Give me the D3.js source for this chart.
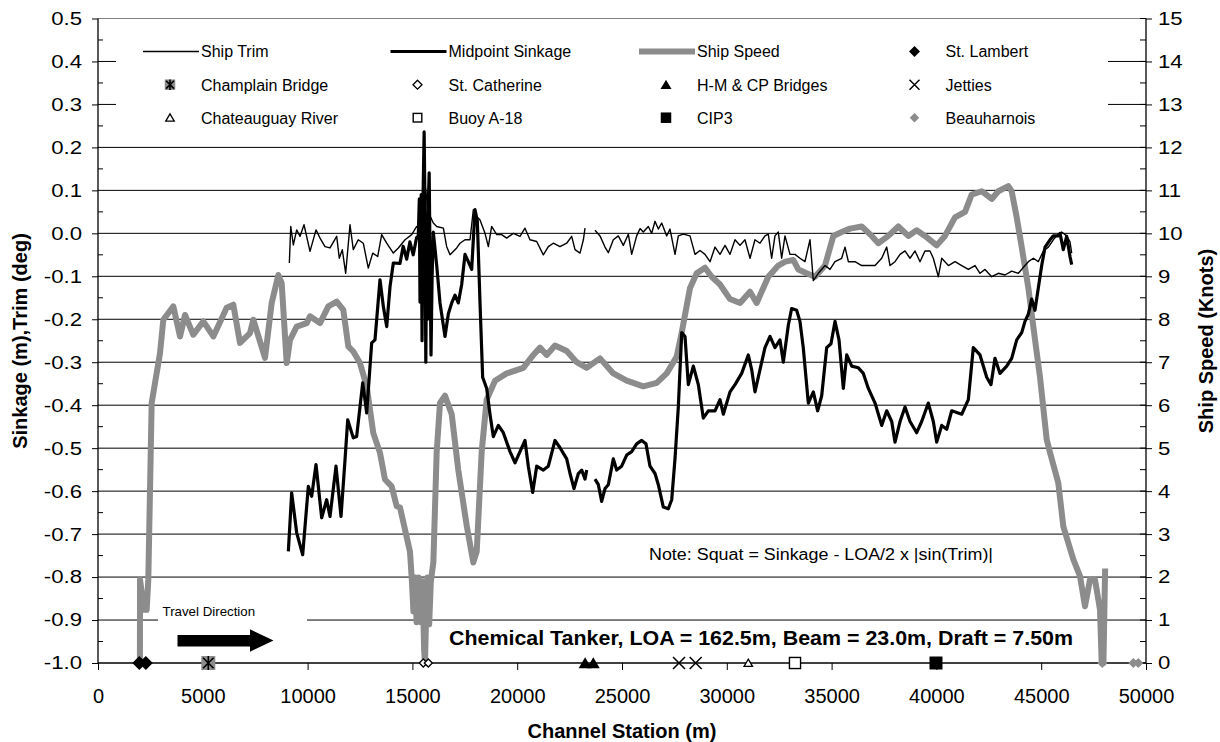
<!DOCTYPE html>
<html>
<head>
<meta charset="utf-8">
<script src="https://cdn.jsdelivr.net/npm/d3@7"></script>
<style>
  body { margin: 0; background: #fff; }
  svg { display: block; font-family: "Liberation Sans", Arial, sans-serif; }
</style>
</head>
<body>
<svg id="chart" width="1220" height="742"></svg>
<script>
// ---- Data: channel station (m) vs. measured quantity ----
const speedKnots = [
  [2000,0],[2004,1.94],[2200,1.24],[2322,1.24],[2400,1.94],[2560,6.05],[2958,7.21],[3117,7.99],
  [3594,8.3],[3912,7.6],[4151,8.1],[4548,7.64],[5025,7.95],[5502,7.6],[6139,8.27],[6457,8.34],
  [6775,7.45],[7252,7.68],[7411,7.99],[7968,7.1],[8287,8.38],[8605,9.03],[8764,8.84],[9003,6.98],
  [9160,7.52],[9480,7.83],[9957,7.91],[10115,8.07],[10592,7.91],[10988,8.3],[11388,8.41],[11703,8.22],
  [11942,7.37],[12180,7.25],[12500,6.98],[12820,6.44],[13135,5.35],[13454,4.89],[13693,4.27],[14012,4.11],
  [14251,3.65],[14408,3.62],[14885,2.59],[14966,1.99],[15050,1.2],[15130,1.99],[15200,0.95],[15290,1.99],
  [15400,0.95],[15480,1.9],[15560,0.3],[15600,0],[15650,1.0],[15720,1.99],[15800,0.9],[15880,1.9],
  [16000,2.34],[16159,4.92],[16317,6.05],[16556,6.22],[16875,5.79],[17190,4.49],[17590,3.2],[17906,2.34],
  [18068,2.59],[18306,4.92],[18545,6.13],[18941,6.57],[19499,6.74],[20291,6.87],[20769,7.17],[21088,7.34],
  [21406,7.17],[21803,7.39],[22361,7.26],[22839,7.0],[23316,6.87],[23950,7.09],[24586,6.74],[25224,6.57],
  [26016,6.44],[26656,6.52],[27133,6.74],[27610,7.13],[27849,7.69],[28245,8.73],[28564,9.07],[28960,9.2],
  [29280,8.99],[29676,8.81],[30153,8.47],[30630,8.38],[31107,8.64],[31425,8.38],[31980,8.99],[32457,9.25],
  [32790,9.34],[33172,9.38],[33410,9.16],[33812,9.07],[34209,8.99],[34686,9.25],[35083,9.94],[35480,10.03],
  [35879,10.11],[36436,10.16],[36913,9.94],[37229,9.77],[37706,9.94],[38183,10.16],[38660,9.94],[39059,10.07],
  [39455,9.94],[40015,9.72],[40410,9.94],[40888,10.37],[41365,10.5],[41683,10.9],[42160,10.98],[42638,10.8],
  [42953,10.98],[43431,11.1],[43591,10.98],[43832,10.37],[44070,9.68],[44387,8.73],[44706,7.52],[44944,6.65],
  [45263,5.2],[45420,4.9],[45816,4.19],[46055,3.18],[46532,2.41],[46851,2.02],[47090,1.32],[47328,1.94],
  [47567,1.94],[47806,1.24],[47887,0],[47970,0],[48050,2.2]
];

// null marks a break in the record
const midpointSinkage = [
  [9082,-0.740],[9240,-0.604],[9480,-0.697],[9766,-0.748],[10035,-0.589],[10195,-0.612],[10401,-0.538],
  [10672,-0.662],[10910,-0.62],[11069,-0.659],[11355,-0.542],[11594,-0.659],[11785,-0.527],[11913,-0.434],
  [12180,-0.476],[12340,-0.473],[12629,-0.348],[12820,-0.418],[13058,-0.255],[13215,-0.248],[13454,-0.108],
  [13613,-0.170],[13774,-0.217],[13932,-0.124],[14090,-0.069],[14408,-0.07],[14560,-0.03],[14727,-0.06],
  [14880,-0.02],[15040,-0.05],[15200,-0.01],[15282,-0.006],[15330,0.08],[15363,-0.16],[15420,0.09],
  [15460,-0.25],[15500,0.06],[15560,0.236],[15601,0.05],[15640,-0.30],[15680,0.0],[15720,-0.2],[15760,0.07],
  [15800,0.141],[15840,-0.05],[15888,-0.283],[15940,-0.1],[15998,0.003],[16160,-0.075],[16317,-0.162],
  [16556,-0.240],[16715,-0.187],[16875,-0.162],[17033,-0.144],[17190,-0.162],[17351,-0.119],[17510,-0.049],
  [17668,-0.066],[17828,-0.084],[17987,0.055],[18097,0.029],[18226,-0.162],[18352,-0.335],[18545,-0.361],
  [18702,-0.421],[18860,-0.473],[19100,-0.447],[19338,-0.464],[19657,-0.508],[19895,-0.534],[20134,-0.508],
  [20372,-0.482],[20530,-0.542],[20739,-0.603],[20930,-0.542],[21246,-0.551],[21485,-0.542],[21803,-0.482],
  [22042,-0.499],[22361,-0.525],[22520,-0.559],[22710,-0.594],[22917,-0.559],[23077,-0.551],[23236,-0.572],
  [23316,-0.551],[23500,null],
  [23712,-0.572],[23872,-0.585],[24030,-0.624],[24189,-0.594],[24347,-0.585],[24586,-0.525],[24745,-0.551],
  [24983,-0.542],[25224,-0.516],[25462,-0.508],[25700,-0.490],[25939,-0.482],[26144,-0.490],[26336,-0.542],
  [26575,-0.559],[26733,-0.585],[26971,-0.637],[27210,-0.641],[27372,-0.620],[27530,-0.524],[27687,-0.404],
  [27849,-0.231],[28006,-0.240],[28164,-0.352],[28403,-0.309],[28641,-0.352],[28879,-0.430],[29118,-0.413],
  [29438,-0.413],[29676,-0.387],[29834,-0.421],[30153,-0.369],[30391,-0.352],[30710,-0.326],[31025,-0.283],
  [31186,-0.317],[31345,-0.369],[31584,-0.317],[31822,-0.266],[32061,-0.240],[32299,-0.266],[32538,-0.248],
  [32696,-0.30],[32935,-0.214],[33094,-0.175],[33333,-0.179],[33490,-0.205],[33648,-0.266],[33889,-0.395],
  [34128,-0.369],[34334,-0.413],[34527,-0.378],[34766,-0.266],[34971,-0.257],[35162,-0.205],[35353,-0.248],
  [35560,-0.361],[35722,-0.283],[35960,-0.309],[36276,-0.313],[36515,-0.326],[36753,-0.361],[37073,-0.395],
  [37390,-0.447],[37629,-0.413],[37868,-0.438],[38026,-0.486],[38265,-0.438],[38503,-0.404],[38742,-0.438],
  [39059,-0.464],[39298,-0.438],[39615,-0.395],[39853,-0.438],[40015,-0.486],[40254,-0.447],[40493,-0.456],
  [40731,-0.413],[40970,-0.417],[41208,-0.421],[41523,-0.387],[41760,-0.266],[42080,-0.283],[42400,-0.335],
  [42605,-0.352],[42796,-0.291],[43034,-0.326],[43354,-0.309],[43592,-0.291],[43832,-0.248],[44070,-0.231],
  [44227,-0.205],[44387,-0.188],[44546,-0.153],[44703,-0.179],[44862,-0.127],[45024,-0.075],[45183,-0.032],
  [45420,-0.015],[45578,-0.006],[45816,-0.006],[45898,0.0],[46055,-0.038],[46215,-0.007],[46374,-0.054],
  [46455,-0.073]
];

const shipTrim = [
  [9129,-0.069],[9196,0.016],[9320,-0.027],[9480,0.008],[9639,-0.007],[9829,0.020],[10115,-0.042],
  [10401,0.008],[10592,-0.011],[10830,-0.031],[11069,-0.034],[11388,-0.007],[11512,-0.058],[11655,-0.038],
  [11817,-0.093],[12023,0.020],[12180,-0.038],[12418,-0.015],[12657,-0.023],[12896,-0.081],[13106,-0.046],
  [13344,-0.054],[13535,-0.003],[13774,-0.023],[14090,-0.046],[14329,-0.034],[14648,-0.015],[14966,-0.003],
  [15204,0.016],[15400,0.008],[15444,0.078],[15600,0.117],[15750,0.05],[15998,0.024],[16160,0.016],
  [16477,0.012],[16636,-0.031],[16795,-0.050],[17114,-0.034],[17272,-0.023],[17510,-0.015],[17749,-0.015],
  [17907,0.055],[18068,0.039],[18226,0.031],[18464,0.0],[18623,-0.031],[18782,0.016],[19021,-0.003],
  [19259,-0.003],[19499,-0.011],[19817,0.0],[20134,-0.007],[20372,0.012],[20610,-0.015],[20930,-0.019],
  [21246,-0.050],[21485,-0.031],[21724,-0.023],[22042,-0.031],[22361,-0.023],[22600,-0.007],[22758,-0.038],
  [22997,-0.046],[23157,-0.015],[23236,0.012],[23450,null],
  [23712,0.007],[23950,-0.006],[24189,-0.032],[24347,-0.045],[24586,-0.015],[24824,-0.006],[25063,-0.028],
  [25302,-0.002],[25462,-0.049],[25700,-0.006],[25860,0.011],[26016,0.003],[26256,0.016],[26416,0.0],
  [26575,0.028],[26733,0.01],[26893,0.024],[27133,-0.006],[27290,0.01],[27530,-0.049],[27687,-0.006],
  [27926,-0.002],[28245,-0.006],[28485,-0.049],[28722,-0.04],[28960,-0.049],[29200,-0.066],[29438,-0.032],
  [29676,-0.049],[29916,-0.028],[30153,-0.049],[30391,-0.015],[30630,-0.028],[30868,-0.015],[31107,-0.058],
  [31345,-0.015],[31584,-0.023],[31822,-0.006],[31980,-0.002],[32140,-0.058],[32299,-0.006],[32457,0.003],
  [32618,-0.058],[32776,-0.006],[33015,-0.049],[33254,-0.049],[33490,-0.058],[33730,-0.066],[33969,-0.015],
  [34128,-0.110],[34366,-0.093],[34686,-0.075],[34924,-0.084],[35162,-0.066],[35480,-0.058],[35640,-0.032],
  [35800,-0.066],[36117,-0.066],[36436,-0.075],[36753,-0.075],[37073,-0.075],[37390,-0.058],[37629,-0.032],
  [37787,-0.075],[38026,-0.066],[38265,-0.049],[38503,-0.041],[38742,-0.058],[38980,-0.041],[39218,-0.066],
  [39455,-0.041],[39694,-0.041],[39853,-0.058],[40093,-0.101],[40254,-0.058],[40571,-0.075],[40890,-0.066],
  [41208,-0.075],[41525,-0.084],[41843,-0.075],[42080,-0.093],[42320,-0.084],[42638,-0.101],[42955,-0.093],
  [43272,-0.097],[43592,-0.088],[43912,-0.093],[44227,-0.075],[44387,-0.066],[44626,-0.058],[44862,-0.066],
  [45104,-0.041],[45342,-0.032],[45578,-0.015],[45737,-0.006],[45976,0.003],[46215,-0.006],[46374,-0.02],
  [46455,-0.046]
];

// Landmarks along the channel, plotted on the bottom line
const landmarkNames = ["St. Lambert","Champlain Bridge","St. Catherine","H-M & CP Bridges","Jetties",
                       "Chateauguay River","Buoy A-18","CIP3","Beauharnois"];
const landmarkStations = [[1970,2280],[5263],[15520,15760],[23240,23630],[27720,28515],
                          [31025],[33254],[39980],[47915,49395,49633]];
const landmarkLevel = -1.0;

// Axis ticks
const stationTicks = [0,5000,10000,15000,20000,25000,30000,35000,40000,45000,50000];
const sinkTicks = [0.5,0.4,0.3,0.2,0.1,0.0,-0.1,-0.2,-0.3,-0.4,-0.5,-0.6,-0.7,-0.8,-0.9,-1.0];
const speedTicks = [0,1,2,3,4,5,6,7,8,9,10,11,12,13,14,15];

// Legend order (4 columns x 3 rows)
const legendNames = ["Ship Trim","Midpoint Sinkage","Ship Speed","St. Lambert",
                     "Champlain Bridge","St. Catherine","H-M & CP Bridges","Jetties",
                     "Chateauguay River","Buoy A-18","CIP3","Beauharnois"];

// ---- Layout & style ----
const GRAY = "#8c8c8c";
const P = { left: 98, right: 1146, top: 18.5, bottom: 663 };
const svg = d3.select("#chart");

const x = d3.scaleLinear().domain([0, 50000]).range([P.left, P.right]);
const yL = d3.scaleLinear().domain([-1, 0.5]).range([P.bottom, P.top]);
const yR = d3.scaleLinear().domain([0, 15]).range([P.bottom, P.top]);

const seriesStyle = {
  "Ship Trim":        { stroke: "#000", width: 1.4 },
  "Midpoint Sinkage": { stroke: "#000", width: 3.2 },
  "Ship Speed":       { stroke: GRAY,  width: 6 }
};
const symbolStyle = {
  "St. Lambert":       { type: "diamondFill",  size: 14, legend: 11 },
  "Champlain Bridge":  { type: "star",         size: 14, legend: 10.5 },
  "St. Catherine":     { type: "diamondOpen",  size: 8,  legend: 9 },
  "H-M & CP Bridges":  { type: "triangleFill", size: 13, legend: 11 },
  "Jetties":           { type: "cross",        size: 12, legend: 10 },
  "Chateauguay River": { type: "triangleOpen", size: 8.5, legend: 8.5 },
  "Buoy A-18":         { type: "squareOpen",   size: 12.5, legend: 10 },
  "CIP3":              { type: "squareFill",   size: 13, legend: 10.5 },
  "Beauharnois":       { type: "diamondGray",  size: 10, legend: 9.5 }
};

function drawSymbol(g, type, cx, cy, s) {
  const h = s / 2;
  const diamond = `M${cx},${cy - h}L${cx + h},${cy}L${cx},${cy + h}L${cx - h},${cy}Z`;
  const tri = `M${cx},${cy - h * 0.9}L${cx + h},${cy + h * 0.8}L${cx - h},${cy + h * 0.8}Z`;
  switch (type) {
    case "diamondFill": g.append("path").attr("d", diamond).attr("fill", "#000"); break;
    case "diamondGray": g.append("path").attr("d", diamond).attr("fill", GRAY); break;
    case "diamondOpen": g.append("path").attr("d", diamond).attr("fill", "#fff").attr("stroke", "#000").attr("stroke-width", 1.3); break;
    case "triangleFill": g.append("path").attr("d", tri).attr("fill", "#000"); break;
    case "triangleOpen": g.append("path").attr("d", tri).attr("fill", "#fff").attr("stroke", "#000").attr("stroke-width", 1.3); break;
    case "squareFill": g.append("rect").attr("x", cx - h).attr("y", cy - h).attr("width", s).attr("height", s).attr("fill", "#000"); break;
    case "squareOpen": g.append("rect").attr("x", cx - h + 0.7).attr("y", cy - h + 0.7).attr("width", s - 1.4).attr("height", s - 1.4)
        .attr("fill", "#fff").attr("stroke", "#000").attr("stroke-width", 1.4); break;
    case "cross":
      g.append("path").attr("d", `M${cx - h},${cy - h}L${cx + h},${cy + h}M${cx + h},${cy - h}L${cx - h},${cy + h}`)
        .attr("stroke", "#000").attr("stroke-width", 1.5); break;
    case "star": {
      g.append("rect").attr("x", cx - h).attr("y", cy - h).attr("width", s).attr("height", s).attr("fill", GRAY);
      const a = h * 0.75;
      g.append("path").attr("d", `M${cx - a},${cy - a}L${cx + a},${cy + a}M${cx + a},${cy - a}L${cx - a},${cy + a}M${cx},${cy - h}L${cx},${cy + h}`)
        .attr("stroke", "#000").attr("stroke-width", 1.6);
      break;
    }
  }
}

// Background
svg.append("rect").attr("width", 1220).attr("height", 742).attr("fill", "#fff");

// Horizontal gridlines at every major sinkage tick inside the plot
svg.append("g").selectAll("line")
  .data(sinkTicks.filter(v => v > -1 && v < 0.5))
  .join("line")
  .attr("x1", P.left).attr("x2", P.right)
  .attr("y1", d => yL(d)).attr("y2", d => yL(d))
  .attr("stroke", "#000").attr("stroke-width", 1);

// Plot-area top border
svg.append("line").attr("x1", P.left).attr("x2", P.right).attr("y1", P.top).attr("y2", P.top)
  .attr("stroke", "#808080").attr("stroke-width", 1.2);

// Legend panel (opaque, hides the gridlines behind it)
svg.append("rect").attr("x", 116).attr("y", 28).attr("width", 992).attr("height", 102).attr("fill", "#fff");

// Text box with travel direction arrow
svg.append("rect").attr("x", 158).attr("y", 596).attr("width", 149).attr("height", 60).attr("fill", "#fff");
svg.append("text").attr("x", 162.5).attr("y", 615.5).attr("font-size", 13.3).text("Travel Direction");
svg.append("path")
  .attr("d", "M177.5,635L250,635L250,629.3L273.5,640.5L250,651.7L250,646.5L177.5,646.5Z")
  .attr("fill", "#000");

// Axis lines
svg.append("line").attr("x1", P.left).attr("x2", P.left).attr("y1", P.top).attr("y2", P.bottom).attr("stroke", "#000").attr("stroke-width", 1.3);
svg.append("line").attr("x1", P.right).attr("x2", P.right).attr("y1", P.top).attr("y2", P.bottom).attr("stroke", "#000").attr("stroke-width", 1.3);
svg.append("line").attr("x1", P.left).attr("x2", P.right).attr("y1", P.bottom).attr("y2", P.bottom).attr("stroke", "#000").attr("stroke-width", 1.3);

// Minor ticks (inside)
const minorL = sinkTicks.slice(1).map((v, i) => (v + sinkTicks[i]) / 2);
svg.append("g").selectAll("line").data(minorL).join("line")
  .attr("x1", P.left).attr("x2", P.left + 5).attr("y1", d => yL(d)).attr("y2", d => yL(d)).attr("stroke", "#000");
const minorR = speedTicks.slice(1).map((v, i) => (v + speedTicks[i]) / 2);
svg.append("g").selectAll("line").data(minorR).join("line")
  .attr("x1", P.right - 6).attr("x2", P.right).attr("y1", d => yR(d)).attr("y2", d => yR(d)).attr("stroke", "#000");
svg.append("g").selectAll("line").data(speedTicks).join("line")
  .attr("x1", P.right - 6).attr("x2", P.right).attr("y1", d => yR(d)).attr("y2", d => yR(d)).attr("stroke", "#000");

// Axes
const tickStretch = 1.2;
const axL = svg.append("g").attr("transform", `translate(${P.left},0)`)
  .call(d3.axisLeft(yL).tickValues(sinkTicks).tickFormat(d => d.toFixed(1)).tickSize(6).tickPadding(10));
axL.select(".domain").remove();
axL.selectAll("text").attr("font-size", 18.5).attr("font-family", null)
  .attr("x", -16 / tickStretch).attr("transform", `scale(${tickStretch},1)`);

const axR = svg.append("g").attr("transform", `translate(${P.right},0)`)
  .call(d3.axisRight(yR).tickValues(speedTicks).tickFormat(d3.format("d")).tickSize(6).tickPadding(6));
axR.select(".domain").remove();
axR.selectAll("text").attr("font-size", 18.5).attr("font-family", null)
  .attr("x", 12 / tickStretch).attr("transform", `scale(${tickStretch},1)`);

const axB = svg.append("g").attr("transform", `translate(0,${P.bottom})`)
  .call(d3.axisBottom(x).tickValues(stationTicks).tickFormat(d3.format("d")).tickSize(7).tickPadding(19));
axB.select(".domain").remove();
axB.selectAll("text").attr("font-size", 20).attr("font-family", null);

// Axis titles
svg.append("text").attr("x", 622).attr("y", 738).attr("text-anchor", "middle")
  .attr("font-size", 20).attr("font-weight", "bold").text("Channel Station (m)");
svg.append("text").attr("transform", "translate(27,341) rotate(-90)").attr("text-anchor", "middle")
  .attr("font-size", 20).attr("font-weight", "bold").text("Sinkage (m),Trim (deg)");
svg.append("text").attr("transform", "translate(1213,341) rotate(-90)").attr("text-anchor", "middle")
  .attr("font-size", 20).attr("font-weight", "bold").text("Ship Speed (Knots)");

// Annotations
svg.append("text").attr("x", 649).attr("y", 560).attr("font-size", 16)
  .attr("textLength", 344).attr("lengthAdjust", "spacingAndGlyphs")
  .text("Note: Squat = Sinkage - LOA/2 x |sin(Trim)|");
svg.append("text").attr("x", 449).attr("y", 644.5).attr("font-size", 20.5).attr("font-weight", "bold")
  .attr("textLength", 624).attr("lengthAdjust", "spacingAndGlyphs")
  .text("Chemical Tanker, LOA = 162.5m, Beam = 23.0m, Draft = 7.50m");

// Series
const lineSpeed = d3.line().x(d => x(d[0])).y(d => yR(d[1])).curve(d3.curveLinear);
const lineLeft = d3.line().defined(d => d[1] !== null).x(d => x(d[0])).y(d => yL(d[1]));

svg.append("path").datum(speedKnots).attr("d", lineSpeed)
  .attr("fill", "none").attr("stroke", seriesStyle["Ship Speed"].stroke)
  .attr("stroke-width", seriesStyle["Ship Speed"].width).attr("stroke-linejoin", "round");
svg.append("path").datum(midpointSinkage).attr("d", lineLeft)
  .attr("fill", "none").attr("stroke", seriesStyle["Midpoint Sinkage"].stroke)
  .attr("stroke-width", seriesStyle["Midpoint Sinkage"].width).attr("stroke-linejoin", "round");
svg.append("path").datum(shipTrim).attr("d", lineLeft)
  .attr("fill", "none").attr("stroke", seriesStyle["Ship Trim"].stroke)
  .attr("stroke-width", seriesStyle["Ship Trim"].width).attr("stroke-linejoin", "round");

// Landmark markers
const gMarks = svg.append("g");
landmarkNames.forEach((name, i) => {
  const st = symbolStyle[name];
  landmarkStations[i].forEach(s => drawSymbol(gMarks, st.type, x(s), yL(landmarkLevel), st.size));
});

// Legend
const colX = [170, 417.5, 666, 914.5];
const rowY = [51.5, 84.7, 117.7];
const gLeg = svg.append("g");
legendNames.forEach((name, i) => {
  const cx = colX[i % 4], cy = rowY[Math.floor(i / 4)];
  if (seriesStyle[name]) {
    const s = seriesStyle[name];
    gLeg.append("line").attr("x1", cx - 27).attr("x2", cx + 29).attr("y1", cy).attr("y2", cy)
      .attr("stroke", s.stroke).attr("stroke-width", s.width);
  } else {
    drawSymbol(gLeg, symbolStyle[name].type, cx, cy, symbolStyle[name].legend);
  }
  gLeg.append("text").attr("x", cx + 31).attr("y", cy + 5.8).attr("font-size", 16).text(name);
});
</script>
</body>
</html>
